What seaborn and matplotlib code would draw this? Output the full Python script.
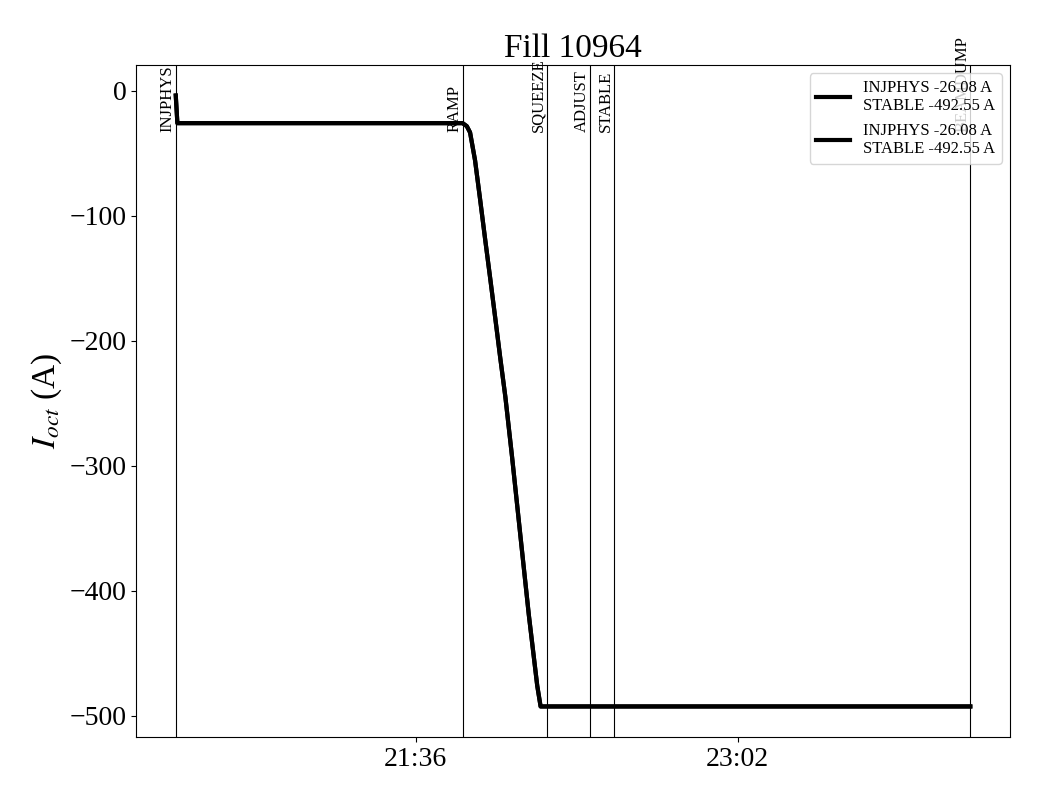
import pandas as pd
import numpy as np
import matplotlib
matplotlib.use('Agg')
import matplotlib.pyplot as plt
import matplotlib.dates as mdates
import matplotlib.transforms as mtransforms
import seaborn as sns

# octupole current (fill 10964)
t_str = ['2025-08-01 20:31:54', '2025-08-01 20:32:20', '2025-08-01 21:48:33',
         '2025-08-01 21:49:40', '2025-08-01 21:50:32', '2025-08-01 21:51:52',
         '2025-08-01 21:53:14', '2025-08-01 21:54:34', '2025-08-01 21:55:56',
         '2025-08-01 21:57:16', '2025-08-01 21:58:36', '2025-08-01 21:59:58',
         '2025-08-01 22:01:45', '2025-08-01 22:03:59', '2025-08-01 22:06:14',
         '2025-08-01 22:08:29', '2025-08-01 22:09:23', '2025-08-02 00:04:12']
i_oct = [-4.0, -26.08, -26.08, -28.5, -33.5, -55.8, -87.4, -119.0, -150.6,
         -182.0, -213.8, -245.0, -292.8, -356.0, -419.3, -476.0, -492.55, -492.55]

# beam modes
mode_names = ['INJPHYS', 'RAMP', 'SQUEEZE', 'ADJUST', 'STABLE', 'BEAMDUMP']
mode_times = ['2025-08-01 20:31:54', '2025-08-01 21:48:33', '2025-08-01 22:11:00',
              '2025-08-01 22:22:28', '2025-08-01 22:28:53', '2025-08-02 00:04:12']

tick_times = ['2025-08-01 21:36:00', '2025-08-01 23:02:00']
leg_label = 'INJPHYS -26.08 A\nSTABLE -492.55 A'

df = pd.DataFrame({'time': pd.to_datetime(t_str), 'I': i_oct})

plt.rcParams['font.family'] = ['Liberation Serif', 'DejaVu Serif']
plt.rcParams['mathtext.fontset'] = 'stix'

fig, ax = plt.subplots(figsize=(10.4, 8), dpi=100)
fig.subplots_adjust(left=0.1308, right=0.9712, bottom=0.07875, top=0.91875)

# same line twice (both entries show up in the legend)
for k in range(2):
    sns.lineplot(data=df, x='time', y='I', ax=ax, color='k', lw=3, label=leg_label)

trans = mtransforms.blended_transform_factory(ax.transData, ax.transAxes)
for name, t in zip(mode_names, pd.to_datetime(mode_times)):
    ax.axvline(t, color='k', lw=0.8)
    ax.text(t, 0.9, name, rotation=90, ha='right', va='bottom',
            fontsize=12, transform=trans)

ax.set_xticks(pd.to_datetime(tick_times))
ax.xaxis.set_major_formatter(mdates.DateFormatter('%H:%M'))
ax.tick_params(labelsize=20)
ax.set_xlabel('')
ax.set_ylabel(r'$I_{oct}$ (A)', fontsize=24)
ax.set_title('Fill 10964', fontsize=24)
ax.legend(loc='upper right', fontsize=12)

fig.savefig('out.png', dpi=100)
